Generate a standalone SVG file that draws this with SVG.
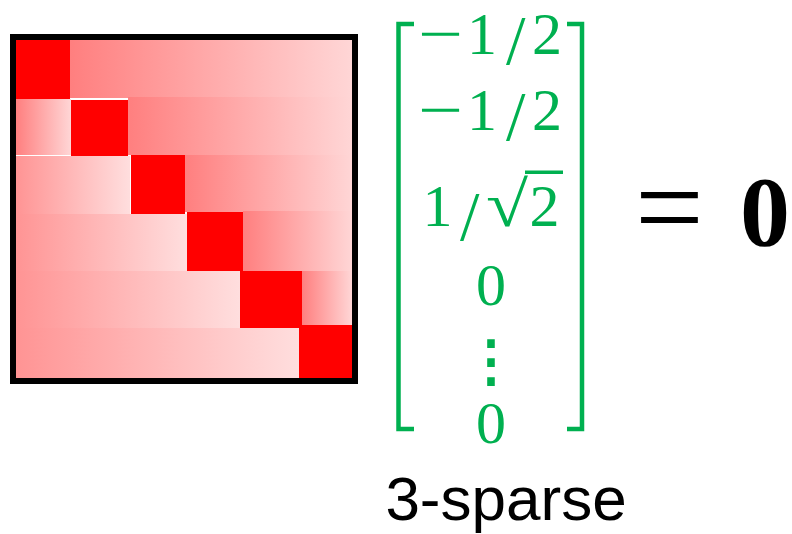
<svg xmlns="http://www.w3.org/2000/svg" width="792" height="534" viewBox="0 0 792 534">
<style>
.g{fill:#00b050;font-family:"Liberation Serif","Times New Roman",serif;font-size:60px}
.s{font-size:70px}
.br{fill:none;stroke:#00b050;stroke-width:4.5}
</style>
<defs>
<linearGradient id="gr" x1="0" x2="1" y1="0" y2="0"><stop offset="0" stop-color="#ff7f7f"/><stop offset="1" stop-color="#ffd6d6"/></linearGradient>
<linearGradient id="gl" x1="0" x2="1" y1="0" y2="0"><stop offset="0" stop-color="#ff9494"/><stop offset="1" stop-color="#ffdede"/></linearGradient>
</defs>
<rect width="792" height="534" fill="#fff"/>
<g id="matrix">
<rect x="70" y="40" width="282" height="58" fill="url(#gr)"/>
<rect x="16" y="99" width="55" height="56" fill="url(#gr)"/>
<rect x="128" y="97" width="224" height="58" fill="url(#gr)"/>
<rect x="16" y="156" width="114" height="60" fill="url(#gl)"/>
<rect x="185" y="155" width="167" height="57" fill="url(#gr)"/>
<rect x="16" y="214" width="171" height="57" fill="url(#gl)"/>
<rect x="243" y="211" width="109" height="61" fill="url(#gr)"/>
<rect x="16" y="271" width="224" height="57" fill="url(#gl)"/>
<rect x="302" y="271" width="50" height="54" fill="url(#gr)"/>
<rect x="16" y="328" width="283" height="50" fill="url(#gl)"/>
<rect x="16" y="40" width="54" height="59" fill="#f00"/>
<rect x="71" y="100" width="57" height="56" fill="#f00"/>
<rect x="131" y="155" width="54" height="59" fill="#f00"/>
<rect x="187" y="212" width="56" height="59" fill="#f00"/>
<rect x="240" y="271" width="62" height="57" fill="#f00"/>
<rect x="299" y="325" width="53" height="53" fill="#f00"/>
<rect x="13" y="37" width="342" height="344" fill="none" stroke="#000" stroke-width="6"/>
</g>
<g id="vector">
<path class="br" d="M414,24 H398.5 V429 H414"/>
<path class="br" d="M567,24 H582 V429 H567"/>
<text class="g" x="418" y="54" textLength="45" lengthAdjust="spacingAndGlyphs">−</text>
<text class="g" x="467" y="54">1</text>
<text class="g s" x="506" y="64">/</text>
<text class="g" x="532" y="54">2</text>
<text class="g" x="418" y="130" textLength="45" lengthAdjust="spacingAndGlyphs">−</text>
<text class="g" x="467" y="130">1</text>
<text class="g s" x="506" y="140">/</text>
<text class="g" x="532" y="130">2</text>
<text class="g" x="422.5" y="226">1</text>
<text class="g s" x="460" y="240">/</text>
<text class="g" x="486" y="226" textLength="42" lengthAdjust="spacingAndGlyphs" style="font-size:64px">√</text>
<text class="g" x="529.5" y="226">2</text>
<rect x="525" y="170.5" width="38" height="3.5" fill="#00b050"/>
<text class="g" x="491" y="355" text-anchor="middle" dominant-baseline="central" style="font-family:'Noto Sans CJK JP',sans-serif;font-size:56px;font-weight:bold">⋮</text>
<text class="g" x="491" y="305" text-anchor="middle">0</text>
<text class="g" x="491" y="443" text-anchor="middle">0</text>
</g>
<g id="equals">
<text x="635" y="248" font-family="Liberation Serif,serif" font-size="122" fill="#000">=</text>
<text x="740" y="245" font-family="Liberation Serif,serif" font-size="100" font-weight="bold" fill="#000">0</text>
</g>
<g id="label">
<text x="506" y="520" text-anchor="middle" font-family="Liberation Sans,Arial,sans-serif" font-size="62" fill="#000">3-sparse</text>
</g>
</svg>
